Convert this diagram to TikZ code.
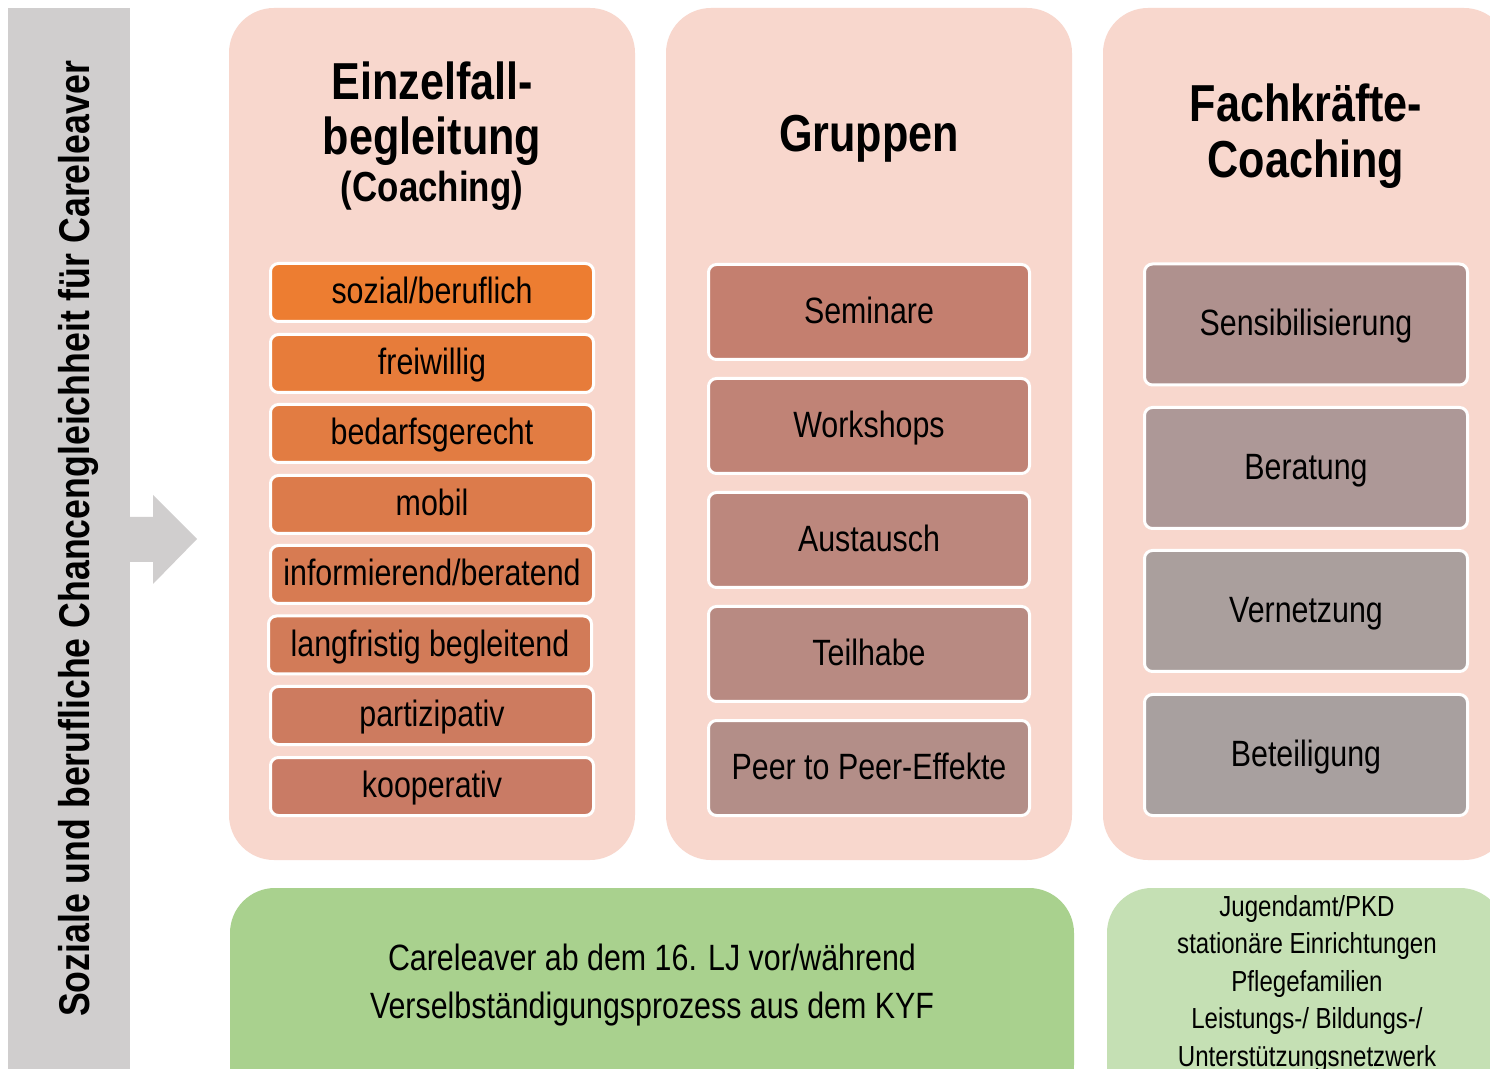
\documentclass[tikz,border=0pt]{standalone}
\usepackage{fontspec}
\setmainfont{Liberation Sans}[FakeStretch=0.83]
\definecolor{barg}{HTML}{D0CECE}
\definecolor{colbg}{HTML}{F8D7CD}
\definecolor{ga}{HTML}{A9D18E}
\definecolor{gb}{HTML}{C5E0B4}
\definecolor{oa}{HTML}{ED7D31}
\definecolor{ob}{HTML}{E77C3A}
\definecolor{oc}{HTML}{E27C42}
\definecolor{od}{HTML}{DC7B4B}
\definecolor{oe}{HTML}{D77B52}
\definecolor{of}{HTML}{D27B58}
\definecolor{og}{HTML}{CD7B5F}
\definecolor{oh}{HTML}{C97B65}
\definecolor{ma}{HTML}{C47F6F}
\definecolor{mb}{HTML}{C08376}
\definecolor{mc}{HTML}{BC877D}
\definecolor{md}{HTML}{B88A82}
\definecolor{me}{HTML}{B38E88}
\definecolor{na}{HTML}{AF918E}
\definecolor{nb}{HTML}{AD9897}
\definecolor{nc}{HTML}{AA9F9D}
\definecolor{nd}{HTML}{A8A09F}
\begin{document}
\begin{tikzpicture}[x=0.5pt,y=-0.5pt,
  itembox/.style={draw=white, line width=1.5pt, rounded corners=4pt, inner sep=0pt,
    text height=1.22em, text depth=0.1em, font=\fontsize{18.3}{22}\selectfont},
  itema/.style={itembox, minimum width=161.5pt, minimum height=29pt},
  itemb/.style={itembox, minimum width=160.5pt, minimum height=47.5pt},
  itemc/.style={itembox, minimum width=161.5pt, minimum height=60.5pt},
  colbox/.style={fill=colbg, rounded corners=22.5pt},
  titlefont/.style={anchor=base, inner sep=0pt, font=\bfseries\fontsize{26}{30}\selectfont},
  subtitlefont/.style={anchor=base, inner sep=0pt, font=\bfseries\fontsize{21}{25}\selectfont},
  greentext/.style={anchor=base, inner sep=0pt, font=\fontsize{18.3}{22}\selectfont},
  smalltext/.style={anchor=base, inner sep=0pt, font=\fontsize{14.5}{18}\selectfont}
]
\useasboundingbox (0,0) rectangle (1490,1069);
\fill[white] (0,0) rectangle (1490,1069);

% left grey bar with arrow
\fill[barg] (8,8) rectangle (130,1090);
\fill[barg] (128,517) -- (153,517) -- (153,495) -- (197,539) -- (153,584) -- (153,562) -- (128,562) -- cycle;
\node[rotate=90, anchor=base, inner sep=0pt, font=\bfseries\fontsize{21.5}{25}\selectfont] (vt) at (90,539)
  {Soziale und berufliche Chancengleichheit für Careleaver};

% column backgrounds
\fill[colbox] (229,8) rectangle (635,860);
\fill[colbox] (666,8) rectangle (1072,860);
\fill[colbox] (1103,8) rectangle (1509,860);

% green boxes
\fill[ga, rounded corners=22.5pt] (230,888) rectangle (1074,1110);
\fill[gb, rounded corners=22.5pt] (1107,888) rectangle (1505,1110);

% titles
\node[titlefont] (t1a) at (432,100) {Einzelfall-};
\node[titlefont] (t1b) at (432,155) {begleitung};
\node[subtitlefont] (t1c) at (432,202) {(Coaching)};
\node[titlefont] (t2) at (869,152) {Gruppen};
\node[titlefont] (t3a) at (1306,122) {Fachkräfte-};
\node[titlefont] (t3b) at (1306,178) {Coaching};

% column 1 items
\node[itema, fill=oa] (a1) at (432,292.5) {sozial/beruflich};
\node[itema, fill=ob] (a2) at (432,363.5) {freiwillig};
\node[itema, fill=oc] (a3) at (432,433.5) {bedarfsgerecht};
\node[itema, fill=od] (a4) at (432,504.5) {mobil};
\node[itema, fill=oe] (a5) at (432,574.5) {informierend/beratend};
\node[itema, fill=of] (a6) at (430,645) {langfristig begleitend};
\node[itema, fill=og] (a7) at (432,715.5) {partizipativ};
\node[itema, fill=oh] (a8) at (432,786.5) {kooperativ};

% column 2 items
\node[itemb, fill=ma] (b1) at (869,312) {Seminare};
\node[itemb, fill=mb] (b2) at (869,426) {Workshops};
\node[itemb, fill=mc] (b3) at (869,540) {Austausch};
\node[itemb, fill=md] (b4) at (869,654) {Teilhabe};
\node[itemb, fill=me] (b5) at (869,768) {Peer to Peer-Effekte};

% column 3 items
\node[itemc, fill=na] (c1) at (1306,324.5) {Sensibilisierung};
\node[itemc, fill=nb] (c2) at (1306,468) {Beratung};
\node[itemc, fill=nc] (c3) at (1306,611) {Vernetzung};
\node[itemc, fill=nd] (c4) at (1306,755) {Beteiligung};

% green texts
\node[greentext] (g1) at (652,970) {Careleaver ab dem 16. LJ vor/während};
\node[greentext] (g2) at (652,1018) {Verselbständigungsprozess aus dem KYF};

\node[smalltext] (h1) at (1307,916) {Jugendamt/PKD};
\node[smalltext] (h2) at (1307,953.5) {stationäre Einrichtungen};
\node[smalltext] (h3) at (1307,991) {Pflegefamilien};
\node[smalltext] (h4) at (1307,1028.5) {Leistungs-/ Bildungs-/};
\node[smalltext] (h5) at (1307,1066) {Unterstützungsnetzwerk};
\end{tikzpicture}
\end{document}
